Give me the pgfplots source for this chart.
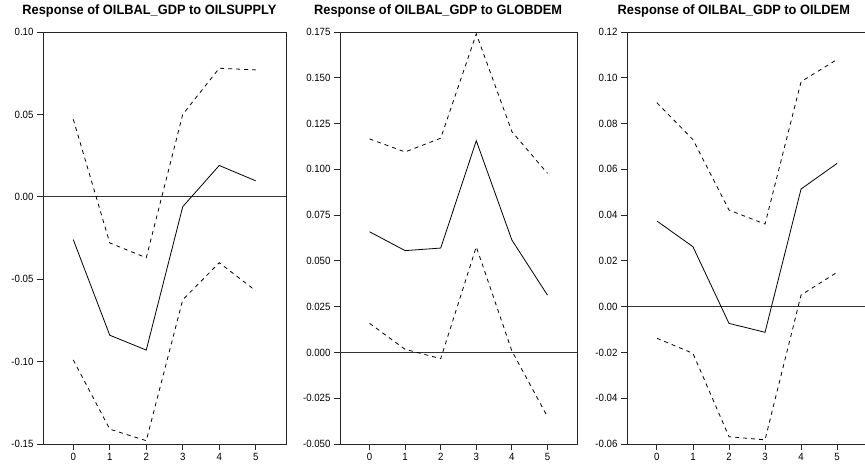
\documentclass[border=0pt]{standalone}
\usepackage{fontspec}
\setmainfont{Liberation Sans}
\usepackage{pgfplots}
\usepackage{pgfplotstable}
\pgfplotsset{compat=1.18}

% step  response  upper  lower
\pgfplotstableread{
x  r       u       l
0  -0.026  0.047  -0.099
1  -0.084  -0.028 -0.141
2  -0.093  -0.037 -0.148
3  -0.006  0.050  -0.0625
4  0.019   0.078  -0.040
5  0.0097  0.077  -0.057
}\supply
\pgfplotstableread{
x  r       u       l
0  0.0659  0.1166  0.0159
1  0.0556  0.1095  0.0017
2  0.057   0.117   -0.0034
3  0.1156  0.174   0.0577
4  0.0614  0.1206  0.0008
5  0.0313  0.0978  -0.0351
}\globdem
\pgfplotstableread{
x  r       u       l
0  0.0374  0.0891  -0.0138
1  0.0262  0.0730  -0.0204
2  -0.0073 0.0422  -0.0568
3  -0.0112 0.0361  -0.0582
4  0.0514  0.0983  0.0051
5  0.0626  0.108   0.015
}\oildem

\pgfplotsset{irf/.style={
  scale only axis, height=412pt,
  axis line style={black!85, line width=0.9pt},
  xmin=-0.83, xmax=5.83,
  xtick={0,...,5},
  tick align=outside,
  xtick pos=bottom, ytick pos=left,
  major tick length=6pt,
  tick style={black!85, line width=0.9pt},
  tick label style={font=\fontsize{10.5}{12}\selectfont\addfontfeature{FakeStretch=0.92}},
  /pgf/number format/assume math mode=true,
  title style={font=\fontsize{13.5}{15}\selectfont\bfseries\addfontfeature{FakeStretch=0.95}, anchor=base, yshift=11pt},
  anchor=south west,
}}
\tikzset{resp/.style={black, line width=0.8pt},
  band/.style={black, line width=0.8pt, dash pattern=on 4pt off 4pt},
  zero/.style={black!80, line width=1pt}}

\begin{document}
\begin{tikzpicture}
\useasboundingbox (0,0) rectangle (865pt,470pt);
\begin{axis}[irf, at={(43pt,26pt)}, width=243pt,
  ymin=-0.15, ymax=0.10, ytick={-0.15,-0.10,-0.05,0,0.05,0.10},
  yticklabel style={/pgf/number format/.cd, fixed, fixed zerofill, precision=2},
  title={Response of OILBAL\_GDP to OILSUPPLY},
  title style={at={(axis description cs:0.438,1)}}]
\addplot[zero, forget plot] coordinates {(-0.83,0) (5.83,0)};
\addplot[resp] table[x=x,y=r] {\supply};
\addplot[band] table[x=x,y=u] {\supply};
\addplot[band] table[x=x,y=l] {\supply};
\end{axis}
\begin{axis}[irf, at={(340pt,26pt)}, width=237pt,
  ymin=-0.05, ymax=0.175, ytick={-0.05,-0.025,0,0.025,0.05,0.075,0.1,0.125,0.15,0.175},
  yticklabel style={/pgf/number format/.cd, fixed, fixed zerofill, precision=3},
  title={Response of OILBAL\_GDP to GLOBDEM},
  title style={at={(axis description cs:0.414,1)}}]
\addplot[zero, forget plot] coordinates {(-0.83,0) (5.83,0)};
\addplot[resp] table[x=x,y=r] {\globdem};
\addplot[band] table[x=x,y=u] {\globdem};
\addplot[band] table[x=x,y=l] {\globdem};
\end{axis}
\begin{axis}[irf, at={(627pt,26pt)}, width=240pt,
  ymin=-0.06, ymax=0.12, ytick={-0.06,-0.04,-0.02,0,0.02,0.04,0.06,0.08,0.10,0.12},
  yticklabel style={/pgf/number format/.cd, fixed, fixed zerofill, precision=2},
  title={Response of OILBAL\_GDP to OILDEM},
  title style={at={(axis description cs:0.445,1)}}]
\addplot[zero, forget plot] coordinates {(-0.83,0) (5.83,0)};
\addplot[resp] table[x=x,y=r] {\oildem};
\addplot[band] table[x=x,y=u] {\oildem};
\addplot[band] table[x=x,y=l] {\oildem};
\end{axis}
\end{tikzpicture}
\end{document}
